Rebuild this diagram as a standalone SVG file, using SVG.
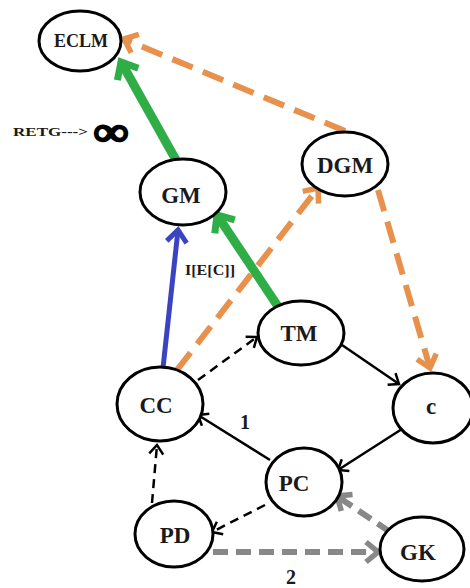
<svg xmlns="http://www.w3.org/2000/svg" width="470" height="588" viewBox="0 0 470 588">
<style>
.node ellipse{fill:#fff;stroke:#000;stroke-width:3}
.node text{font-family:"Liberation Serif",serif;font-weight:bold;font-size:23px;text-anchor:middle;fill:#1a1a1a}
.lbl{font-family:"Liberation Serif",serif;font-weight:bold;fill:#1a1a1a}
.blk{stroke:#000;stroke-width:2.5;fill:none}
.dash{stroke-dasharray:9 6}
.grn{stroke:#2fae47;stroke-width:9;fill:none}
.org{stroke:#e8914c;stroke-width:6;fill:none;stroke-dasharray:22 11}
.blu{stroke:#3c43c0;stroke-width:5;fill:none}
.gry{stroke:#888;stroke-width:6;fill:none;stroke-dasharray:15 8}
</style>
<defs>
<marker id="aB" markerUnits="userSpaceOnUse" markerWidth="20" markerHeight="20" refX="0" refY="0" orient="auto" overflow="visible"><path d="M-9,-7 L0,0 L-9,7" fill="none" stroke="#000" stroke-width="2.5"/></marker>
<marker id="aG" markerUnits="userSpaceOnUse" markerWidth="30" markerHeight="30" refX="0" refY="0" orient="auto" overflow="visible"><path d="M-14,-12 L0,0 L-14,12" fill="none" stroke="#2fae47" stroke-width="7"/></marker>
<marker id="aO" markerUnits="userSpaceOnUse" markerWidth="30" markerHeight="30" refX="0" refY="0" orient="auto" overflow="visible"><path d="M-12,-10 L0,0 L-12,10" fill="none" stroke="#e8914c" stroke-width="5.5"/></marker>
<marker id="aL" markerUnits="userSpaceOnUse" markerWidth="30" markerHeight="30" refX="0" refY="0" orient="auto" overflow="visible"><path d="M-12,-10 L0,0 L-12,10" fill="none" stroke="#3c43c0" stroke-width="5"/></marker>
<marker id="aY" markerUnits="userSpaceOnUse" markerWidth="30" markerHeight="30" refX="0" refY="0" orient="auto" overflow="visible"><path d="M-12,-10 L0,0 L-12,10" fill="none" stroke="#888" stroke-width="5.5"/></marker>
</defs>
<g id="connectors">
<line class="grn" x1="176" y1="160" x2="121" y2="62" marker-end="url(#aG)"/>
<line class="org" x1="345" y1="131" x2="124" y2="39" marker-end="url(#aO)"/>
<line class="blu" x1="163" y1="368" x2="178" y2="230" marker-end="url(#aL)"/>
<line class="org" x1="177" y1="370" x2="318" y2="188" marker-end="url(#aO)"/>
<line class="grn" x1="279" y1="308" x2="217" y2="215" marker-end="url(#aG)"/>
<line class="org" x1="378" y1="190" x2="430" y2="368" marker-end="url(#aO)"/>
<line class="blk dash" x1="198" y1="380" x2="257" y2="337" marker-end="url(#aB)"/>
<line class="blk" x1="342" y1="345" x2="399" y2="384" marker-end="url(#aB)"/>
<line class="blk" x1="402" y1="429" x2="338" y2="470" marker-end="url(#aB)"/>
<line class="blk" x1="270" y1="460" x2="198" y2="415" marker-end="url(#aB)"/>
<line class="blk dash" x1="265" y1="505" x2="212" y2="532" marker-end="url(#aB)"/>
<line class="blk dash" x1="152" y1="503" x2="157" y2="445" marker-end="url(#aB)"/>
<line class="gry" x1="213" y1="552" x2="378" y2="552" marker-end="url(#aY)"/>
<line class="gry" x1="390" y1="532" x2="337" y2="496" marker-end="url(#aY)"/>
</g>
<g id="ECLM" class="node"><ellipse cx="80" cy="41" rx="41" ry="30"/><text x="81" y="47" style="font-size:18px">ECLM</text></g>
<g id="DGM" class="node"><ellipse cx="345" cy="164" rx="43" ry="32"/><text x="345" y="173">DGM</text></g>
<g id="GM" class="node"><ellipse cx="183" cy="192" rx="43" ry="33"/><text x="181" y="203">GM</text></g>
<g id="TM" class="node"><ellipse cx="301" cy="333" rx="43" ry="32"/><text x="299" y="341">TM</text></g>
<g id="CC" class="node"><ellipse cx="160" cy="404" rx="43" ry="37"/><text x="156" y="413">CC</text></g>
<g id="c" class="node"><ellipse cx="433" cy="408" rx="40" ry="35"/><text x="431" y="414">c</text></g>
<g id="PC" class="node"><ellipse cx="304" cy="482" rx="38" ry="34"/><text x="294" y="491">PC</text></g>
<g id="PD" class="node"><ellipse cx="174" cy="534" rx="39" ry="33"/><text x="175" y="543">PD</text></g>
<g id="GK" class="node"><ellipse cx="422" cy="549" rx="42" ry="32"/><text x="418" y="560">GK</text></g>
<text class="lbl" x="13" y="136" font-size="13" textLength="75" lengthAdjust="spacingAndGlyphs">RETG---&gt;</text>
<text class="lbl" x="94" y="145" font-size="40" stroke="#000" stroke-width="2.5" textLength="34" lengthAdjust="spacingAndGlyphs">∞</text>
<text class="lbl" x="185" y="275" font-size="14" textLength="50" lengthAdjust="spacingAndGlyphs">I[E[C]]</text>
<text class="lbl" x="240" y="429" font-size="20">1</text>
<text class="lbl" x="286" y="584" font-size="20">2</text>
</svg>
